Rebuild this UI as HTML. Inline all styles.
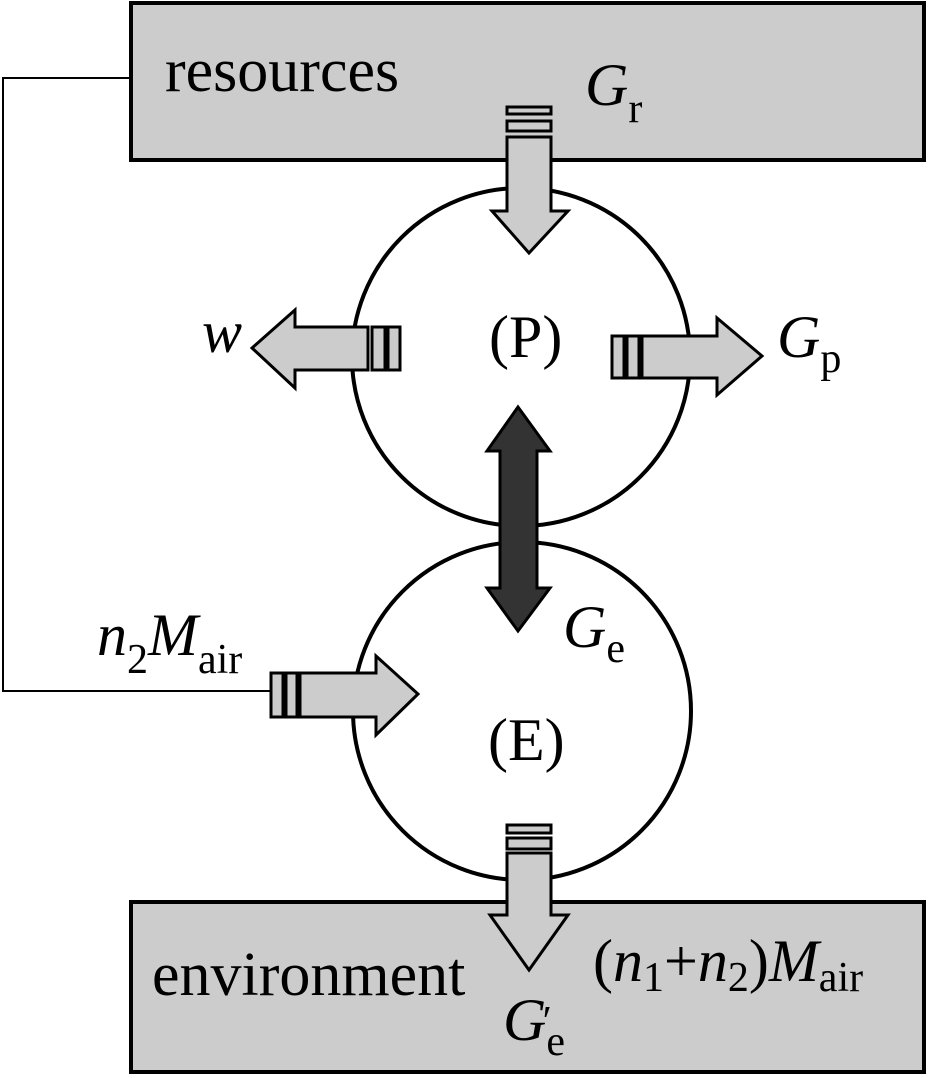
<!DOCTYPE html>
<html><head><style>html,body{margin:0;padding:0;background:#fff}svg{display:block}
text{font-family:"Liberation Serif",serif;fill:#000}</style></head><body>
<svg width="933" height="1078" viewBox="0 0 933 1078" xmlns="http://www.w3.org/2000/svg">
<g stroke="#000" stroke-width="4">
<rect x="131" y="3" width="793" height="157" fill="#cccccc"/>
<rect x="131" y="902" width="793" height="170" fill="#cccccc"/>
<circle cx="521" cy="357" r="169" fill="#fff"/>
<circle cx="522" cy="711" r="169" fill="#fff"/>
</g>
<polyline points="131,78 3,78 3,691 271,691" fill="none" stroke="#000" stroke-width="2"/>
<g stroke="#000" stroke-width="3" fill="#cccccc">
<rect x="507" y="107" width="44" height="7"/><rect x="507" y="121" width="44" height="10"/>
<polygon points="507,137 551,137 551,211 568,211 529,253 492,211 507,211"/>
<rect x="372" y="327" width="13" height="43"/><rect x="388" y="327" width="12" height="43"/>
<polygon points="368,327 368,370 295,370 295,388 252,348 295,310 295,327"/>
<rect x="612" y="336" width="12" height="42"/><rect x="627" y="336" width="12" height="42"/>
<polygon points="642,336 717,336 717,318 762,356 717,395 717,378 642,378"/>
<rect x="271" y="673" width="12" height="44"/><rect x="286" y="673" width="11" height="44"/>
<polygon points="300,673 376,673 376,656 418,694 376,735 376,717 300,717"/>
<rect x="507" y="825" width="44" height="8"/><rect x="507" y="838" width="44" height="11"/>
<polygon points="507,853 551,853 551,915 568,915 529,970 490,915 507,915"/>
</g>
<polygon points="518,407 550,451 537,451 537,588 550,588 518,631 487,588 500,588 500,451 487,451" fill="#333" stroke="#000" stroke-width="3"/>
<g font-size="60">
<text x="165" y="91" font-size="62">resources</text>
<text x="585" y="105"><tspan font-style="italic">G</tspan><tspan font-size="42" dy="17">r</tspan></text>
<text x="202" y="352" font-style="italic">w</text>
<text x="489" y="357">(P)</text>
<text x="777" y="357"><tspan font-style="italic">G</tspan><tspan font-size="42" dy="15">p</tspan></text>
<text x="563" y="647"><tspan font-style="italic">G</tspan><tspan font-size="42" dy="15">e</tspan></text>
<text x="97" y="655"><tspan font-style="italic">n</tspan><tspan font-size="42" dy="18">2</tspan><tspan font-style="italic" dy="-18">M</tspan><tspan font-size="42" dy="18">air</tspan></text>
<text x="488" y="760">(E)</text>
<text x="152" y="995" font-size="62">environment</text>
<text x="593" y="981">(<tspan font-style="italic">n</tspan><tspan font-size="42" dy="10">1</tspan><tspan dy="-10">+</tspan><tspan font-style="italic">n</tspan><tspan font-size="42" dy="10">2</tspan><tspan dy="-10">)</tspan><tspan font-style="italic">M</tspan><tspan font-size="42" dy="10">air</tspan></text>
<text x="503" y="1040"><tspan font-style="italic">G</tspan><tspan font-size="42" dy="15">e</tspan></text>
<text x="540" y="1035" font-size="42" font-style="italic">′</text>
</g>
</svg>
</body></html>
